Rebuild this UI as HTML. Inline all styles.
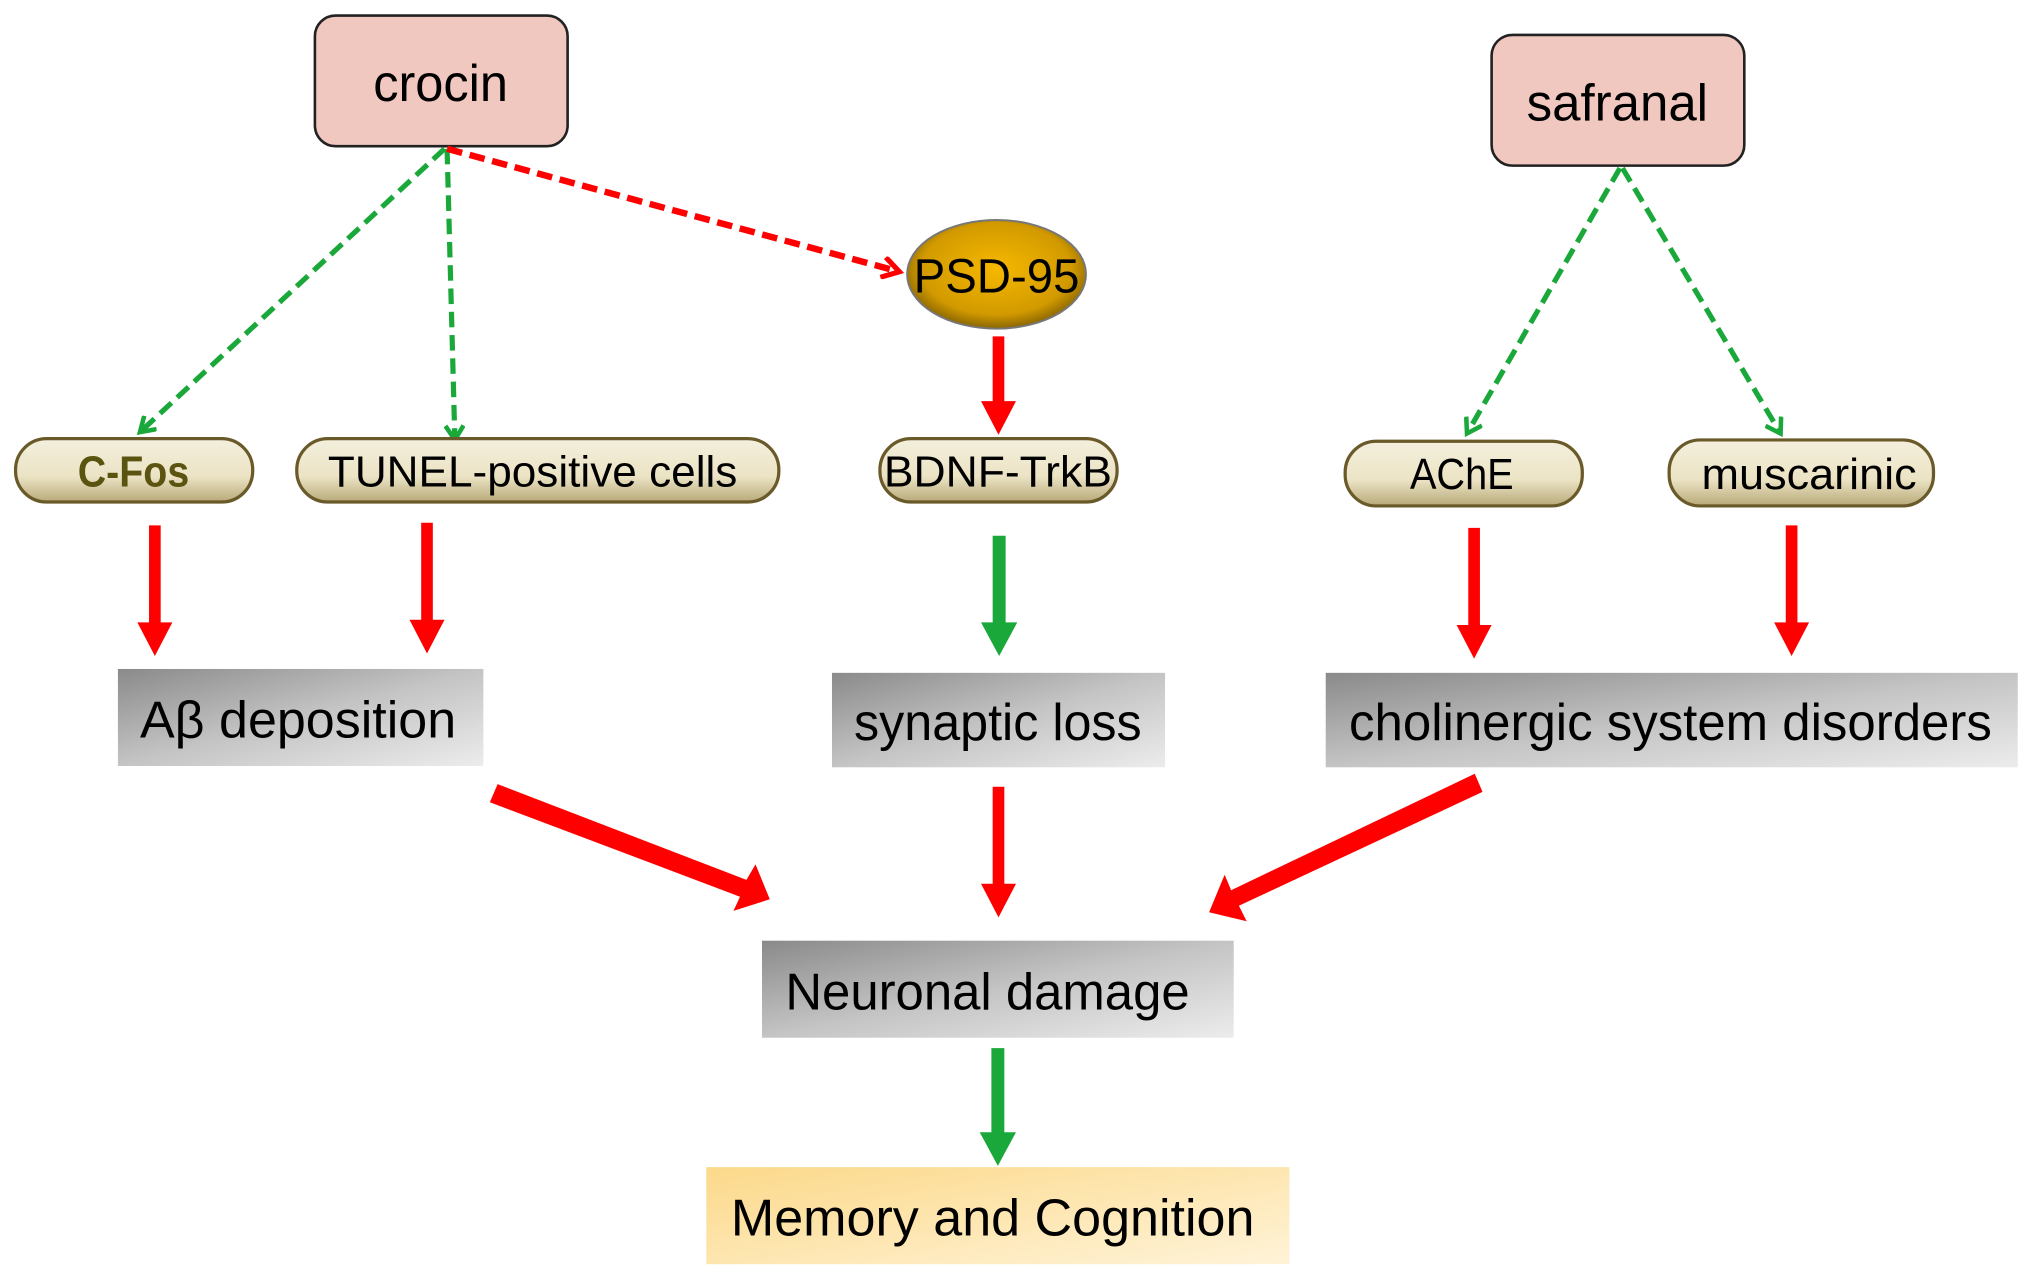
<!DOCTYPE html>
<html><head><meta charset="utf-8"><style>html,body{margin:0;padding:0;background:#fff}svg{display:block}</style></head>
<body>
<svg width="2032" height="1281" viewBox="0 0 1568 990" preserveAspectRatio="none" xmlns="http://www.w3.org/2000/svg" font-family="Liberation Sans, sans-serif">
<defs>
<linearGradient id="gray" x1="0" y1="0" x2="1" y2="1"><stop offset="0" stop-color="#8a8a8a"/><stop offset="0.5" stop-color="#c4c4c4"/><stop offset="1" stop-color="#ececec"/></linearGradient>
<linearGradient id="yel" x1="0" y1="0" x2="1" y2="1"><stop offset="0" stop-color="#fcd98a"/><stop offset="1" stop-color="#fff3d8"/></linearGradient>
<linearGradient id="pill" x1="0" y1="0" x2="0" y2="1"><stop offset="0" stop-color="#f4f0de"/><stop offset="0.6" stop-color="#ebe3c4"/><stop offset="1" stop-color="#b8a978"/></linearGradient>
<radialGradient id="gold" cx="0.5" cy="0.45" r="0.6"><stop offset="0" stop-color="#f6b800"/><stop offset="0.7" stop-color="#d29a00"/><stop offset="1" stop-color="#6e5200"/></radialGradient>
<marker id="ag" markerWidth="16" markerHeight="16" refX="12" refY="8" orient="auto" markerUnits="userSpaceOnUse"><path d="M1,1 L12,8 L1,15" fill="none" stroke="#1aa83a" stroke-width="3.5"/></marker>
<marker id="ar" markerWidth="18" markerHeight="18" refX="14" refY="9" orient="auto" markerUnits="userSpaceOnUse"><path d="M1,1 L14,9 L1,17" fill="none" stroke="#f00" stroke-width="4"/></marker>
</defs>

<rect x="243" y="12" width="195" height="101" rx="16" fill="#f0c8c0" stroke="#222" stroke-width="2"/>
<text x="340" y="78" font-size="40" text-anchor="middle" textLength="104" lengthAdjust="spacingAndGlyphs">crocin</text>
<rect x="1151" y="27" width="195" height="101" rx="16" fill="#f0c8c0" stroke="#222" stroke-width="2"/>
<text x="1248" y="93" font-size="40" text-anchor="middle" textLength="140" lengthAdjust="spacingAndGlyphs">safranal</text>
<ellipse cx="769" cy="212" rx="69" ry="42" fill="url(#gold)" stroke="#777" stroke-width="1.5"/>
<text x="769" y="226" font-size="37" text-anchor="middle" textLength="128" lengthAdjust="spacingAndGlyphs">PSD-95</text>

<g stroke-dasharray="12,6" fill="none">
<line x1="343" y1="115" x2="108" y2="334" stroke="#1aa83a" stroke-width="4" marker-end="url(#ag)"/>
<line x1="345" y1="115" x2="351" y2="340" stroke="#1aa83a" stroke-width="4" marker-end="url(#ag)"/>
<line x1="345" y1="115" x2="694" y2="210" stroke="#f00" stroke-width="5" marker-end="url(#ar)"/>
<line x1="1250" y1="130" x2="1132" y2="335" stroke="#1aa83a" stroke-width="4" marker-end="url(#ag)"/>
<line x1="1252" y1="130" x2="1374" y2="335" stroke="#1aa83a" stroke-width="4" marker-end="url(#ag)"/>
</g>

<g stroke="#6a5a2a" stroke-width="2.5" fill="url(#pill)">
<rect x="12" y="339" width="183" height="49" rx="24"/>
<rect x="229" y="339" width="372" height="49" rx="24"/>
<rect x="679" y="339" width="183" height="49" rx="24"/>
<rect x="1038" y="341" width="183" height="50" rx="24"/>
<rect x="1288" y="340" width="204" height="51" rx="24"/>
</g>
<g font-size="34" text-anchor="middle">
<text x="103" y="376" fill="#5a5410" font-weight="bold" textLength="86" lengthAdjust="spacingAndGlyphs">C-Fos</text>
<text x="411" y="376" textLength="316" lengthAdjust="spacingAndGlyphs">TUNEL-positive cells</text>
<text x="770" y="376" textLength="176" lengthAdjust="spacingAndGlyphs">BDNF-TrkB</text>
<text x="1128" y="378" textLength="80" lengthAdjust="spacingAndGlyphs">AChE</text>
<text x="1396" y="378" textLength="166" lengthAdjust="spacingAndGlyphs">muscarinic</text>
</g>

<g>
<path d="M115,406 h9 v75 h9 l-13.5,26 l-13.5,-26 h9z" fill="#f00"/>
<path d="M325,404 h9 v75 h9 l-13.5,26 l-13.5,-26 h9z" fill="#f00"/>
<path d="M766,260 h9 v50 h9 l-13.5,26 l-13.5,-26 h9z" fill="#f00"/>
<path d="M766,414 h10 v67 h9 l-14,26 l-14,-26 h9z" fill="#1aa83a"/>
<path d="M1133,408 h9 v75 h9 l-13.5,26 l-13.5,-26 h9z" fill="#f00"/>
<path d="M1378,406 h9 v75 h9 l-13.5,26 l-13.5,-26 h9z" fill="#f00"/>
<path d="M766,608 h9 v75 h9 l-13.5,26 l-13.5,-26 h9z" fill="#f00"/>
<path d="M765,810 h10 v65 h9 l-14,26 l-14,-26 h9z" fill="#1aa83a"/>
<path d="M384,606 L576,680 L583,668 L594,695 L566,704 L571,693 L378,620Z" fill="#f00"/>
<path d="M1138,598 L950,688 L945,676 L933,705 L962,712 L956,700 L1144,612Z" fill="#f00"/>
</g>

<rect x="91" y="517" width="282" height="75" fill="url(#gray)"/>
<text x="230" y="570" font-size="40" text-anchor="middle" textLength="244" lengthAdjust="spacingAndGlyphs">Aβ deposition</text>
<rect x="642" y="520" width="257" height="73" fill="url(#gray)"/>
<text x="770" y="572" font-size="40" text-anchor="middle" textLength="222" lengthAdjust="spacingAndGlyphs">synaptic loss</text>
<rect x="1023" y="520" width="534" height="73" fill="url(#gray)"/>
<text x="1289" y="572" font-size="40" text-anchor="middle" textLength="496" lengthAdjust="spacingAndGlyphs">cholinergic system disorders</text>
<rect x="588" y="727" width="364" height="75" fill="url(#gray)"/>
<text x="762" y="780" font-size="40" text-anchor="middle" textLength="312" lengthAdjust="spacingAndGlyphs">Neuronal damage</text>
<rect x="545" y="902" width="450" height="75" fill="url(#yel)"/>
<text x="766" y="955" font-size="40" text-anchor="middle" textLength="404" lengthAdjust="spacingAndGlyphs">Memory and Cognition</text>
</svg>
</body></html>
